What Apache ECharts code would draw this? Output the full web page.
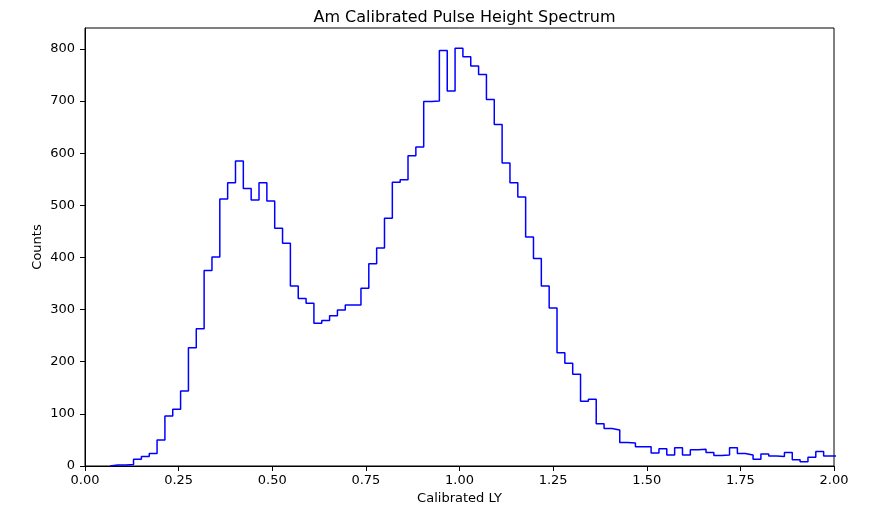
<!DOCTYPE html>
<html>
<head>
<meta charset="utf-8">
<script src="https://cdn.jsdelivr.net/npm/echarts@6/dist/echarts.min.js"></script>
<style>
  html, body { margin: 0; padding: 0; background: #fff; }
  #chart { width: 876px; height: 510px; }
</style>
</head>
<body>
<div id="chart"></div>
<script>
// histogram binning (same bins for every count below)
const binStart = 0.0668;
const binWidth = 0.02094;

// counts per bin
const counts = [
  2, 2, 3, 13, 18, 24, 50, 96, 109, 144,
  227, 263, 375, 401, 512, 543, 585, 532, 510, 543,
  508, 456, 427, 345, 321, 312, 274, 279, 288, 299,
  309, 309, 341, 388, 418, 475, 544, 549, 595, 612,
  699, 700, 797, 719, 801, 785, 767, 751, 703, 655,
  581, 543, 516, 439, 398, 345, 303, 217, 197, 176,
  124, 128, 81, 72, 69, 45, 44, 37, 37, 25,
  33, 21, 35, 21, 31, 32, 26, 20, 21, 35,
  24, 21, 13, 23, 19, 18, 26, 12, 8, 17,
  28, 19, 19
];

const xTicks = [0, 0.25, 0.5, 0.75, 1.0, 1.25, 1.5, 1.75, 2.0];
const yTicks = [0, 100, 200, 300, 400, 500, 600, 700, 800];

// step outline: start at zero on the first edge, one point per left edge, close on the last right edge
const stepData = [[binStart, 0]];
counts.forEach((c, i) => stepData.push([binStart + i * binWidth, c]));
const lastEdge = binStart + counts.length * binWidth;
stepData.push([lastEdge, counts[counts.length - 1]]);
stepData.push([lastEdge, 0]);

const font = 'DejaVu Sans';
const chart = echarts.init(document.getElementById('chart'));

chart.setOption({
  animation: false,
  textStyle: { fontFamily: font },
  title: {
    text: 'Am Calibrated Pulse Height Spectrum',
    left: 459.5,
    top: 5,
    textAlign: 'center',
    textStyle: { fontFamily: font, fontSize: 16, fontWeight: 'normal', color: '#000' }
  },
  grid: {
    left: 85, right: 42, top: 28, bottom: 44,
    show: true, borderColor: '#000', borderWidth: 1, backgroundColor: 'transparent'
  },
  xAxis: {
    type: 'value',
    min: 0, max: 2, interval: 0.25,
    name: 'Calibrated LY',
    nameLocation: 'middle',
    nameGap: 26,
    nameMoveOverlap: false,
    nameTextStyle: { fontFamily: font, fontSize: 13, color: '#000' },
    axisLine: { show: true, onZero: false, lineStyle: { color: '#000', width: 1 } },
    axisTick: { show: true, length: 5, lineStyle: { color: '#000' }, customValues: xTicks },
    axisLabel: {
      fontFamily: font, fontSize: 13, color: '#000', margin: 8,
      customValues: xTicks,
      formatter: v => v.toFixed(2)
    },
    splitLine: { show: false }
  },
  yAxis: {
    type: 'value',
    min: 0, max: 840,
    name: 'Counts',
    nameLocation: 'middle',
    nameGap: 41,
    nameRotate: 90,
    nameMoveOverlap: false,
    nameTextStyle: { fontFamily: font, fontSize: 13, color: '#000' },
    axisLine: { show: true, onZero: false, lineStyle: { color: '#000', width: 1 } },
    axisTick: { show: true, length: 5, lineStyle: { color: '#000' }, customValues: yTicks },
    axisLabel: { fontFamily: font, fontSize: 13, color: '#000', margin: 10, customValues: yTicks },
    splitLine: { show: false }
  },
  series: [{
    type: 'line',
    step: 'end',
    data: stepData,
    showSymbol: false,
    clip: true,
    lineStyle: { color: '#0000ff', width: 1.5 },
    silent: true
  }]
});
</script>
</body>
</html>
